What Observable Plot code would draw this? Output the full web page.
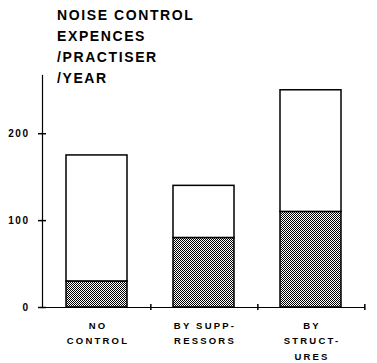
<!DOCTYPE html>
<html>
<head>
<meta charset="utf-8">
<script src="https://cdn.jsdelivr.net/npm/d3@7"></script>
<script src="https://cdn.jsdelivr.net/npm/@observablehq/plot@0.6"></script>
<style>
  html, body { margin: 0; padding: 0; background: #fff; }
  #wrap { position: relative; width: 377px; height: 363px; overflow: hidden; }
  #title { position: absolute; left: 57px; top: 5px; font-family: "Liberation Sans", Arial, sans-serif; font-weight: bold; font-size: 14px; line-height: 21px; letter-spacing: 1.6px; color: #000; white-space: pre; z-index: 2; }
  #chart svg g[aria-label="x-axis tick label"] text { letter-spacing: 2.2px; }
  #chart svg g[aria-label="y-axis tick label"] text { letter-spacing: 1.5px; }
</style>
</head>
<body>
<div id="wrap">
  <div id="title">NOISE CONTROL
EXPENCES
/PRACTISER
/YEAR</div>
  <div id="chart"></div>
</div>
<script>
const categories = ["NO\nCONTROL", "BY SUPP-\nRESSORS", "BY\nSTRUCT-\nURES"];
const lowerValues = [30, 80, 110];
const totalValues = [175, 140, 250];
const yTicks = [0, 100, 200];

const rows = categories.map((c, i) => ({cat: c, lower: lowerValues[i], total: totalValues[i]}));

const W = 377, H = 363, mL = 42, mR = 12, mT = 75, mB = 56;
const plotW = W - mL - mR, plotH = H - mT - mB;
const step = plotW / categories.length;
const font = "'Liberation Sans', Arial, sans-serif";

const chart = Plot.plot({
  width: W,
  height: H,
  marginLeft: mL,
  marginRight: mR,
  marginTop: mT,
  marginBottom: mB,
  style: {fontFamily: font, fontWeight: "bold", fontSize: "10px", color: "#000", background: "transparent"},
  x: {domain: categories, paddingInner: 0.43, paddingOuter: 0.215, axis: null, label: null},
  y: {domain: [0, 267], axis: null, label: null},
  marks: [
    Plot.barY(rows, {x: "cat", y1: 0, y2: "lower", fill: "url(#dither)", stroke: "#000", strokeWidth: 1.5}),
    Plot.barY(rows, {x: "cat", y1: "lower", y2: "total", fill: "#fff", stroke: "#000", strokeWidth: 1.5}),
    Plot.ruleY([0], {stroke: "#000", strokeWidth: 1.2}),
    Plot.frame({anchor: "left", stroke: "#000", strokeWidth: 1.2}),
    Plot.axisY({ticks: yTicks, tickSize: 0, tickPadding: 13, tickFormat: d => d, fontWeight: "bold", fontSize: 10, label: null}),
    Plot.axisX({ticks: categories, tickSize: 0, tickPadding: 10, lineHeight: 1.65, fontSize: 9.5, fontWeight: "bold", dx: 1, label: null}),
    Plot.tickY(yTicks, {y: d => d, stroke: "#000", strokeWidth: 1.5, insetLeft: -4, insetRight: plotW - 4}),
    Plot.tickX(categories, {x: d => d, dx: step / 2, stroke: "#000", strokeWidth: 1.5, insetTop: plotH - 3, insetBottom: -3})
  ]
});

chart.insertAdjacentHTML("afterbegin",
  '<defs><pattern id="dither" width="2" height="2" patternUnits="userSpaceOnUse">' +
  '<rect width="2" height="2" fill="#fff"/><rect width="1" height="1" fill="#000"/>' +
  '<rect x="1" y="1" width="1" height="1" fill="#000"/></pattern></defs>');

document.getElementById("chart").appendChild(chart);
</script>
</body>
</html>
